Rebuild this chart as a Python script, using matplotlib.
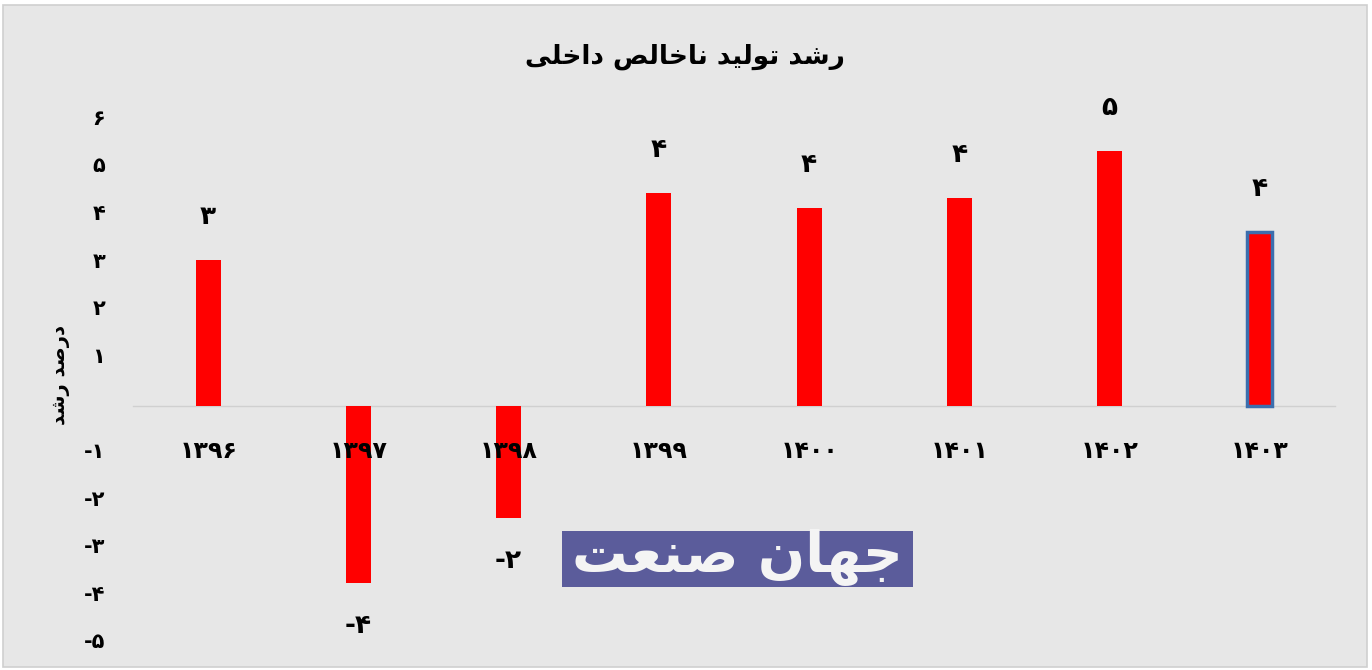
import matplotlib
matplotlib.use("Agg")
import matplotlib.pyplot as plt
from matplotlib.patches import Rectangle
from matplotlib.transforms import ScaledTranslation

# ---------------- data ----------------
years = ["1396", "1397", "1398", "1399", "1400", "1401", "1402", "1403"]
growth = [3.05, -3.73, -2.36, 4.46, 4.15, 4.36, 5.34, 3.64]
yticks = [-5, -4, -3, -2, -1, 1, 2, 3, 4, 5, 6]
title_text = "رشد تولید ناخالص داخلی"
ylabel_text = "درصد رشد"
logo_text = "جهان صنعت"

# ---------------- Persian helpers ----------------
FA_DIGITS = str.maketrans("0123456789", "۰۱۲۳۴۵۶۷۸۹")


def fa(s):
    return str(s).translate(FA_DIGITS)


# isolated, final, initial, medial  (None => right-joining only)
FORMS = {
    "ا": ("\uFE8D", "\uFE8E", None, None),
    "ت": ("\uFE95", "\uFE96", "\uFE97", "\uFE98"),
    "ج": ("\uFE9D", "\uFE9E", "\uFE9F", "\uFEA0"),
    "خ": ("\uFEA5", "\uFEA6", "\uFEA7", "\uFEA8"),
    "د": ("\uFEA9", "\uFEAA", None, None),
    "ر": ("\uFEAD", "\uFEAE", None, None),
    "ش": ("\uFEB5", "\uFEB6", "\uFEB7", "\uFEB8"),
    "ص": ("\uFEB9", "\uFEBA", "\uFEBB", "\uFEBC"),
    "ع": ("\uFEC9", "\uFECA", "\uFECB", "\uFECC"),
    "ل": ("\uFEDD", "\uFEDE", "\uFEDF", "\uFEE0"),
    "ن": ("\uFEE5", "\uFEE6", "\uFEE7", "\uFEE8"),
    "ه": ("\uFEE9", "\uFEEA", "\uFEEB", "\uFEEC"),
    "و": ("\uFEED", "\uFEEE", None, None),
    "ی": ("\uFEEF", "\uFEF0", "\uFEF3", "\uFEF4"),
}


def shape(text):
    out = []
    n = len(text)
    for i, ch in enumerate(text):
        if ch not in FORMS:
            out.append(ch)
            continue
        prev = text[i - 1] if i > 0 else None
        nxt = text[i + 1] if i < n - 1 else None
        joins_prev = prev in FORMS and FORMS[prev][2] is not None
        joins_next = FORMS[ch][2] is not None and nxt in FORMS
        iso, fin, ini, med = FORMS[ch]
        if joins_prev and joins_next:
            out.append(med)
        elif joins_prev:
            out.append(fin)
        elif joins_next:
            out.append(ini)
        else:
            out.append(iso)
    return "".join(out)[::-1]


# ---------------- figure ----------------
W, H = 1372, 670
fig = plt.figure(figsize=(W / 100, H / 100), dpi=100)
fig.patch.set_facecolor("white")
bg = "#e7e7e7"
fig.patches.append(Rectangle((3 / W, 3 / H), 1 - 8 / W, 1 - 8 / H,
                             transform=fig.transFigure, facecolor=bg,
                             edgecolor="#cfcfcf", linewidth=1.2, zorder=-5))

left, right = 133 / W, 1335 / W
zero_px, unit_px = 405.5, 47.6
top_px, bot_px = zero_px - 6 * unit_px, zero_px + 5 * unit_px
ax = fig.add_axes([left, (H - bot_px) / H, right - left, (bot_px - top_px) / H])
ax.set_facecolor("none")
ax.set_zorder(1)
ax.set_axisbelow(False)
ax.set_xlim(-0.5, len(years) - 0.5)
ax.set_ylim(-5, 6)

x = list(range(len(years)))
bars = ax.bar(x, growth, width=0.168, color="#ff0000", zorder=2)
bars[-1].set_edgecolor("#3c6eae")
bars[-1].set_linewidth(2.5)

for sp in ["top", "right", "left"]:
    ax.spines[sp].set_visible(False)
ax.spines["bottom"].set_position(("data", 0))
ax.spines["bottom"].set_color("#d0d0d0")
ax.spines["bottom"].set_linewidth(1.0)
ax.spines["bottom"].set_zorder(1)

ax.set_xticks(x)
ax.set_xticklabels([fa(y) for y in years], fontsize=17, fontweight="bold",
                   family="DejaVu Sans")
ax.tick_params(axis="x", length=0, pad=24)

ax.set_yticks(yticks)
ax.set_yticklabels([fa(v) for v in yticks], fontsize=15, fontweight="bold",
                   family="DejaVu Sans")
ax.tick_params(axis="y", length=0, pad=20)
shift = ScaledTranslation(0, 3 / 100, fig.dpi_scale_trans)
for lab in ax.get_yticklabels():
    lab.set_transform(lab.get_transform() + shift)

for xi, v in zip(x, growth):
    off = 43 if v >= 0 else -43
    ax.annotate(fa(int(round(v))), (xi, v), xytext=(0, off),
                textcoords="offset pixels", ha="center", va="center",
                fontsize=19, fontweight="bold", family="DejaVu Sans")

fig.text(685 / W, (H - 57) / H, shape(title_text), ha="center", va="center",
         fontsize=19, fontweight="bold", family="DejaVu Sans")
fig.text(60 / W, (H - 375) / H, shape(ylabel_text), ha="center", va="center",
         rotation=90, fontsize=14, fontweight="bold", family="DejaVu Sans")

# logo box
lx0, lx1, ly0, ly1 = 562, 913, 531, 587
fig.patches.append(Rectangle((lx0 / W, (H - ly1) / H), (lx1 - lx0) / W,
                             (ly1 - ly0) / H, transform=fig.transFigure,
                             facecolor="#5b5c9b", edgecolor="none", zorder=5))
fig.text((lx0 + lx1) / 2 / W, (H - (ly0 + ly1) / 2 + 2) / H, shape(logo_text),
         ha="center", va="center", fontsize=40, fontweight="bold",
         color="#f4f4f4", family="DejaVu Sans", zorder=6)

fig.savefig("out.png", dpi=100, facecolor=fig.get_facecolor())
